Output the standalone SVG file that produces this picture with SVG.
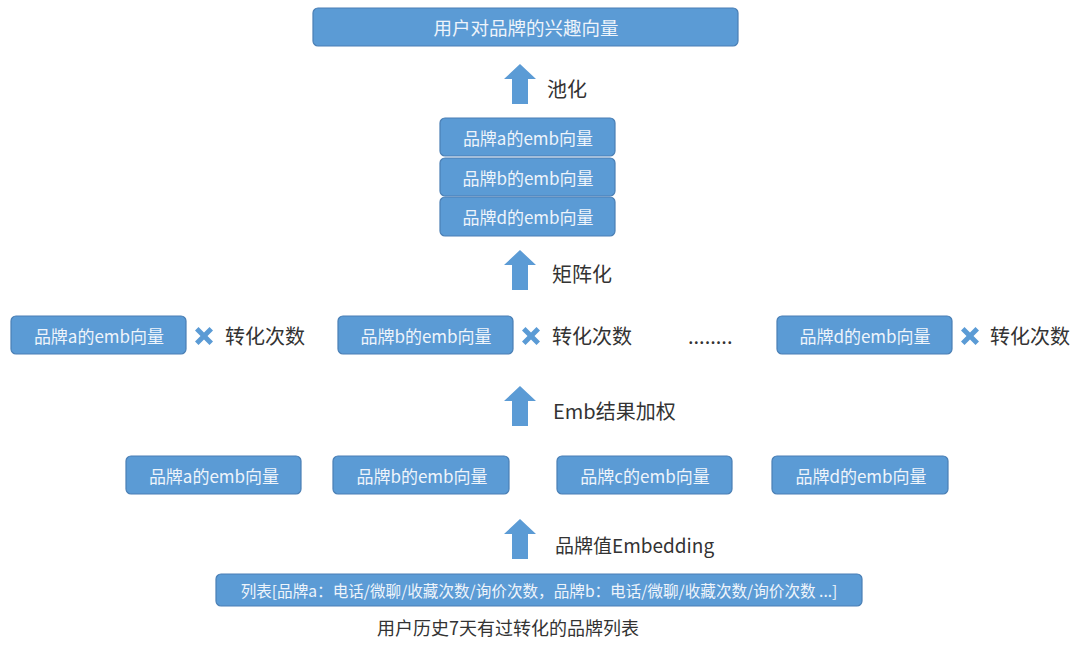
<svg xmlns="http://www.w3.org/2000/svg" width="1080" height="658" viewBox="0 0 1080 658">
<style>
.box{fill:#5B9BD5;stroke:#4A7FB5;stroke-width:1.2}
.bt{font-family:"Noto Sans CJK SC","Liberation Sans",sans-serif;font-size:17px;fill:#EEF4FB;text-anchor:middle;dominant-baseline:central}
.lb{font-family:"Noto Sans CJK SC","Liberation Sans",sans-serif;font-size:20px;fill:#333;dominant-baseline:central}
.arr{fill:#5B9BD5}
.x{fill:#5B9BD5}
</style>
<defs>
<path id="up" class="arr" d="M0,0 L16,15 L8,15 L8,40 L-8,40 L-8,15 L-16,15 Z"/>
<path id="xm" class="x" d="M-9,-5.5 L-5.5,-9 L0,-3.5 L5.5,-9 L9,-5.5 L3.5,0 L9,5.5 L5.5,9 L0,3.5 L-5.5,9 L-9,5.5 L-3.5,0 Z"/>
</defs>
<rect width="1080" height="658" fill="#fff"/>
<g id="connectors">
<use href="#up" x="520" y="64"/>
<use href="#up" x="520" y="250"/>
<use href="#up" x="520" y="386"/>
<use href="#up" x="520" y="519"/>
<text class="lb" x="547" y="88">池化</text>
<text class="lb" x="552" y="273">矩阵化</text>
<text class="lb" x="553" y="410">Emb结果加权</text>
<text class="lb" x="555" y="544" style="font-size:19px">品牌值Embedding</text>
</g>
<g id="n-top"><rect class="box" x="313" y="8" width="425" height="38" rx="5"/><text class="bt" x="526" y="27" style="font-size:18.5px">用户对品牌的兴趣向量</text></g>
<g id="n-stack-a"><rect class="box" x="440" y="118" width="175" height="38" rx="5"/><text class="bt" x="528" y="137">品牌a的emb向量</text></g>
<g id="n-stack-b"><rect class="box" x="440" y="158" width="175" height="38" rx="5"/><text class="bt" x="528" y="177">品牌b的emb向量</text></g>
<g id="n-stack-d"><rect class="box" x="440" y="197" width="175" height="39" rx="5"/><text class="bt" x="528" y="216">品牌d的emb向量</text></g>
<g id="n-w-a"><rect class="box" x="11" y="316" width="175" height="38" rx="5"/><text class="bt" x="99" y="335">品牌a的emb向量</text><use href="#xm" x="204" y="336"/><text class="lb" x="225" y="335">转化次数</text></g>
<g id="n-w-b"><rect class="box" x="338" y="316" width="175" height="38" rx="5"/><text class="bt" x="426" y="335">品牌b的emb向量</text><use href="#xm" x="531" y="336"/><text class="lb" x="552" y="335">转化次数</text></g>
<g id="n-dots"><text class="lb" x="688" y="335">........</text></g>
<g id="n-w-d"><rect class="box" x="777" y="316" width="175" height="38" rx="5"/><text class="bt" x="865" y="335">品牌d的emb向量</text><use href="#xm" x="970" y="336"/><text class="lb" x="990" y="335">转化次数</text></g>
<g id="n-e-a"><rect class="box" x="126" y="456" width="175" height="38" rx="5"/><text class="bt" x="214" y="475">品牌a的emb向量</text></g>
<g id="n-e-b"><rect class="box" x="333" y="456" width="176" height="38" rx="5"/><text class="bt" x="422" y="475">品牌b的emb向量</text></g>
<g id="n-e-c"><rect class="box" x="557" y="456" width="175" height="38" rx="5"/><text class="bt" x="645" y="475">品牌c的emb向量</text></g>
<g id="n-e-d"><rect class="box" x="772" y="456" width="176" height="38" rx="5"/><text class="bt" x="861" y="475">品牌d的emb向量</text></g>
<g id="n-list"><rect class="box" x="216" y="574" width="646" height="32" rx="5"/><text class="bt" x="539" y="590" style="font-size:15.6px">列表[品牌a：电话/微聊/收藏次数/询价次数，品牌b：电话/微聊/收藏次数/询价次数 ...]</text><text class="lb" x="508" y="627" style="text-anchor:middle;font-size:18px">用户历史7天有过转化的品牌列表</text></g>
</svg>
